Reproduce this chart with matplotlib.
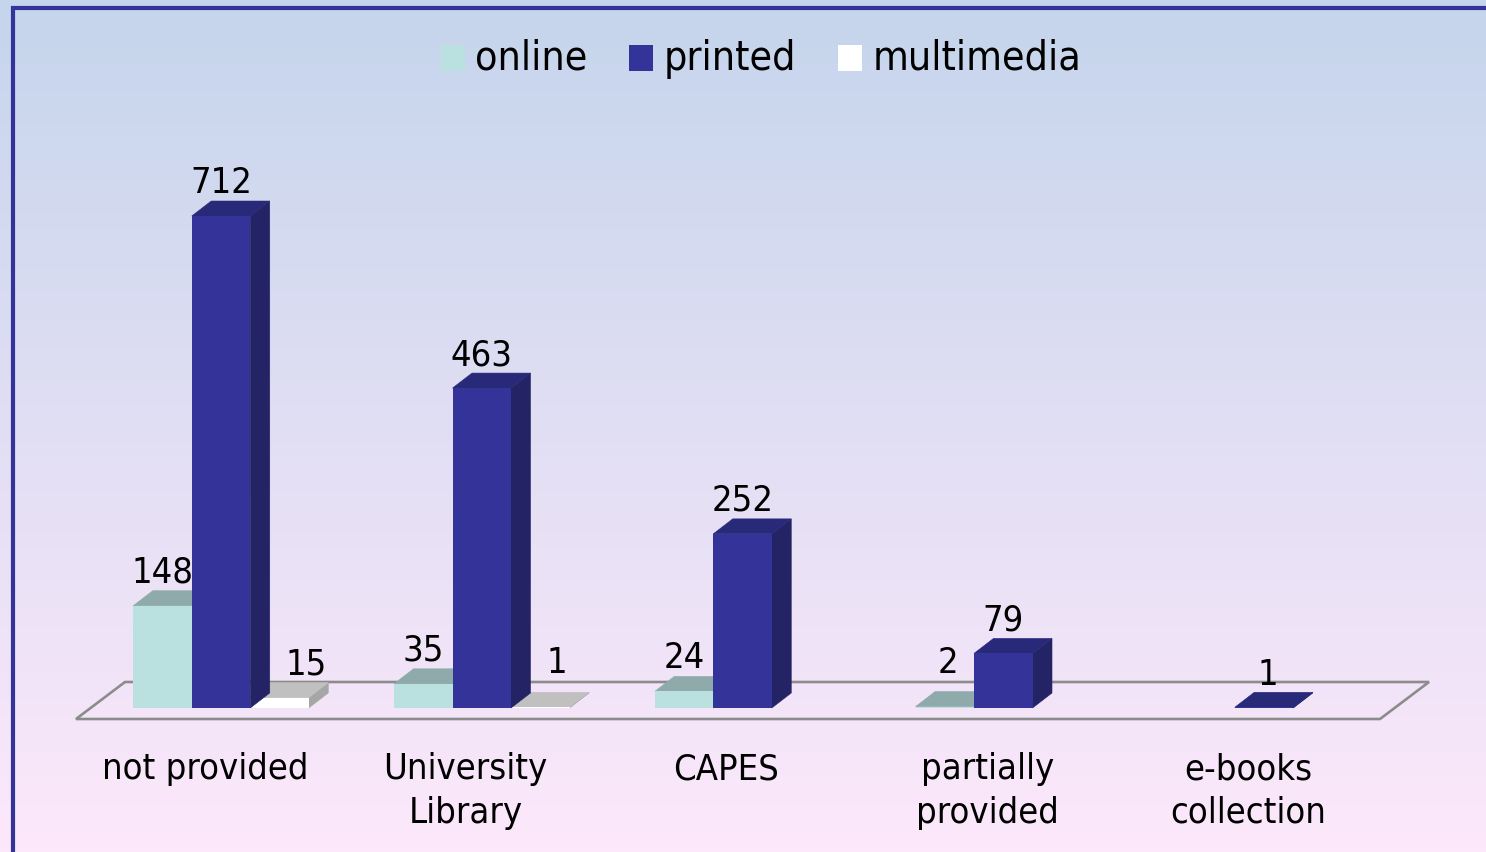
import numpy as np
import matplotlib
matplotlib.use("Agg")
import matplotlib.pyplot as plt
from matplotlib.patches import Patch, Polygon
from matplotlib import font_manager as fm

# ── Data ──────────────────────────────────────────────────────────────────────
categories = ["not provided", "University\nLibrary", "CAPES", "partially\nprovided", "e-books\ncollection"]
series_names = ["online", "printed", "multimedia"]
online = [148, 35, 24, 2, None]
printed = [712, 463, 252, 79, 1]
multimedia = [15, 1, None, None, None]

W, H = 1486, 852
PX_X = 260.75   # px per category
PX_Y = 0.691    # px per value unit
X0, Y0 = 221, 708
BAR_W = 58.5 / PX_X
DX, DY = 19.5 / PX_X, 15 / PX_Y

colors = {
    "online": ("#bae0e0", "#8faaaa", "#8faaaa"),
    "printed": ("#333399", "#29297a", "#232366"),
    "multimedia": ("#ffffff", "#c0c0c0", "#a6a6a6"),
}

font = dict(family="DejaVu Sans", stretch="condensed")
VAL_FS, CAT_FS, LEG_FS = 26, 26, 29.4

# ruční posuny popisků (px) – (série, kategorie): (dx, dy)
nudges = {
    ("multimedia", 0): (27, -4),
    ("multimedia", 1): (17, 7),
    ("online", 3): (3, 7),
    ("printed", 4): (4, -5),
}

fig = plt.figure(figsize=(W / 100, H / 100), dpi=100)
ax = fig.add_axes([0, 0, 1, 1])

# pozadí – svislý přechod
grad = np.linspace(0, 1, 256)[:, None, None]
top, bottom = np.array([197, 213, 236]) / 255, np.array([253, 232, 251]) / 255
ax.imshow(top + (bottom - top) * grad, extent=[0, 1, 0, 1], transform=ax.transAxes,
          aspect="auto", zorder=0)
ax.set_xlim(-X0 / PX_X, (W - X0) / PX_X)
ax.set_ylim(-(H - Y0) / PX_Y, Y0 / PX_Y)
ax.axis("off")

# rámeček
ax.plot([13 / W, 13 / W, 1], [0, 1 - 8 / H, 1 - 8 / H], transform=ax.transAxes,
        color="#333399", lw=3.0, zorder=1, solid_joinstyle="miter")

# podlaha
floor_l, floor_r = -145 / PX_X, 1159 / PX_X
floor_y = -11 / PX_Y
ax.add_patch(Polygon([(floor_l, floor_y), (floor_r, floor_y),
                      (floor_r + 49 / PX_X, floor_y + 37 / PX_Y),
                      (floor_l + 49 / PX_X, floor_y + 37 / PX_Y)],
                     closed=True, fill=False, ec="#8c8c8c", lw=1.9, zorder=1))

# sloupce
x = np.arange(len(categories))
for name, vals, slot, z in [("multimedia", multimedia, 1, 2), ("online", online, -1, 3), ("printed", printed, 0, 4)]:
    front, topc, side = colors[name]
    for i, v in enumerate(vals):
        if v is None:
            continue
        l = x[i] + slot * BAR_W - BAR_W / 2
        r = l + BAR_W
        ax.add_patch(Polygon([(r, 0), (r + DX, DY), (r + DX, v + DY), (r, v)], fc=side, ec=side, lw=0.4, zorder=z))
        ax.add_patch(Polygon([(l, v), (l + DX, v + DY), (r + DX, v + DY), (r, v)], fc=topc, ec=topc, lw=0.4, zorder=z))
        ax.bar(l, v, BAR_W, align="edge", color=front, zorder=z)
        ndx, ndy = nudges.get((name, i), (0, -4))
        ax.text(l + BAR_W / 2 + ndx / PX_X, v + DY + (5 + ndy) / PX_Y, str(v), ha="center", va="bottom",
                fontsize=VAL_FS, color="black", zorder=6, **font)

for xi, c in zip(x, categories):
    ax.text(xi - 16 / PX_X, -44 / PX_Y, c, ha="center", va="top", fontsize=CAT_FS,
            color="black", linespacing=1.37, zorder=6, **font)

handles = [Patch(fc=colors[n][0], ec="none") for n in series_names]
leg = ax.legend(handles, series_names, ncol=3, loc="center", bbox_to_anchor=(761 / W, 1 - 59 / H),
                frameon=False, handlelength=0.59, handleheight=0.59, handletextpad=0.25,
                columnspacing=1.03, prop=fm.FontProperties(size=LEG_FS, **font), labelcolor="black")
for p in leg.get_patches():
    p.set_y(p.get_y() - 1.5)

plt.savefig("out.png", dpi=100)
